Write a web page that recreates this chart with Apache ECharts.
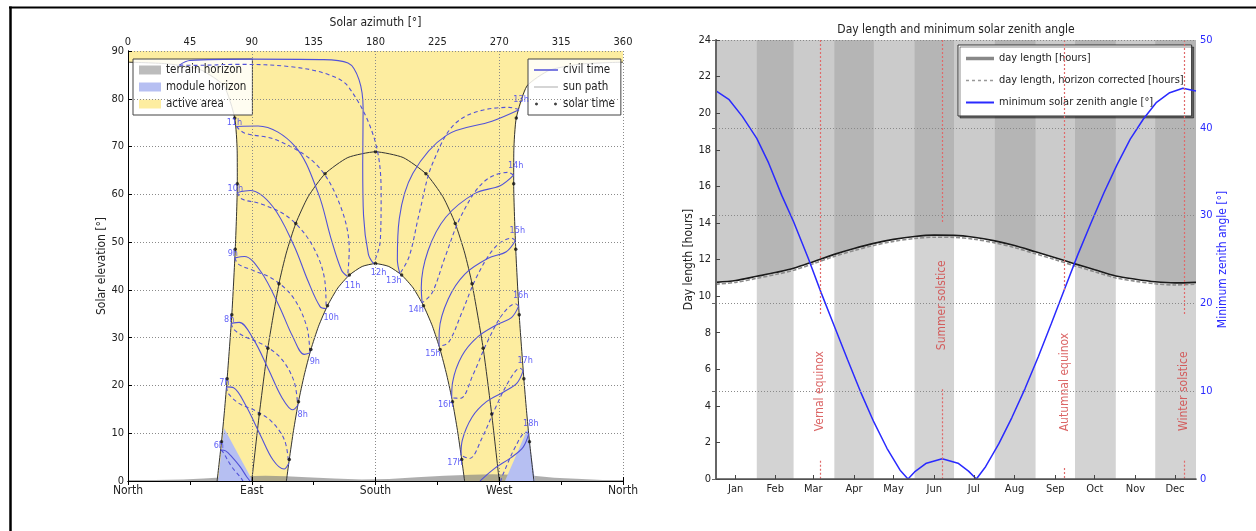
<!DOCTYPE html>
<html><head><meta charset="utf-8">
<script src="https://cdn.jsdelivr.net/npm/echarts@6/dist/echarts.min.js"></script>
<style>html,body{margin:0;padding:0;background:#fff}#c{width:1256px;height:531px}</style>
</head><body><div id="c"></div>
<script>
// ================= LEFT CHART DATA (azimuth °, elevation °) =================
const compassLabels = ['North', 'East', 'South', 'West', 'North'];

const summerPathAM = [[64.8,0],[68.0,8.2],[70.2,14.8],[72.1,21.4],[75.5,34.8],[78.0,48.5],[79.5,62.2],[79.4,69.1],[77.6,76.0],[69.8,82.7],[53.3,86.0],[29.3,87.3],[0,87.66]];
const summerPathPM = [[360,87.66],[330.7,87.3],[306.7,86.0],[290.2,82.7],[282.4,76.0],[280.6,69.1],[280.5,62.2],[282.0,48.5],[284.5,34.8],[287.9,21.4],[289.8,14.8],[292.0,8.2],[295.2,0]];
const winterPath = [[115.2,0],[117.3,4.5],[120.4,10.6],[124.0,16.6],[128.2,22.2],[133.0,27.5],[138.6,32.4],[145.1,36.7],[152.6,40.4],[161.0,43.1],[170.3,44.9],[180,45.5],[189.7,44.9],[199.0,43.1],[207.4,40.4],[214.9,36.7],[221.4,32.4],[227.0,27.5],[231.8,22.2],[236.0,16.6],[239.6,10.6],[242.7,4.5],[244.8,0]];
const equinoxPath = [[90,0],[95.5,14.0],[101.7,27.8],[109.8,41.3],[115.1,47.7],[122.0,53.9],[131.0,59.5],[143.3,64.3],[159.9,67.7],[180,68.9],[200.1,67.7],[216.7,64.3],[229.0,59.5],[238.0,53.9],[244.9,47.7],[250.2,41.3],[258.3,27.8],[264.5,14.0],[270,0]];
const skyTop = [[0,90],[360,90]];

const terrainHorizon = [[0,0],[0,0.2],[20,0.2],[40,0.3],[55,0.5],[70,0.8],[85,1.0],[100,1.1],[115,1.0],[130,0.8],[150,0.5],[170,0.3],[190,0.4],[210,0.8],[230,1.1],[250,1.3],[265,1.4],[280,1.3],[295,1.1],[310,0.7],[330,0.4],[345,0.2],[360,0.2],[360,0]];
const moduleHorizonEast = [[65.5,0],[69.8,11.1],[90.7,0]];
const moduleHorizonWest = [[274.2,0],[290.7,11.0],[296.0,0]];

const solarTimeDots = [
  [68.0,8.2],[72.1,21.4],[75.5,34.8],[78.0,48.5],[79.5,62.2],[77.6,76.0],
  [282.4,76.0],[280.5,62.2],[282.0,48.5],[284.5,34.8],[287.9,21.4],[292.0,8.2],
  [95.5,14.0],[101.7,27.8],[109.8,41.3],[122.0,53.9],[143.3,64.3],[180,68.9],
  [216.7,64.3],[238.0,53.9],[250.2,41.3],[258.3,27.8],[264.5,14.0],
  [117.3,4.5],[124.0,16.6],[133.0,27.5],[145.1,36.7],[161.0,43.1],[180,45.5],
  [199.0,43.1],[214.9,36.7],[227.0,27.5],[236.0,16.6],[242.7,4.5]
];

const civilHours = [6,7,8,9,10,11,12,13,14,15,16,17,18];
const civilSolid = [
  [[67.5,6.5],[71.0,6.3],[75.4,5.1],[81.5,3.0],[86.3,0.9],[88.7,0]],
  [[71.6,19.7],[76.8,19.5],[85.5,15.9],[96.3,9.6],[105.5,4.4],[113.5,2.5],[116.8,3.6]],
  [[75.1,33.0],[80.9,33.2],[90.8,29.9],[102.3,23.3],[111.7,17.6],[119.9,14.9],[123.4,15.8]],
  [[77.7,46.7],[84.7,47.0],[96.7,43.8],[109.8,36.7],[119.7,30.3],[128.2,26.5],[132.2,26.8]],
  [[79.5,60.4],[88.9,60.8],[105.1,57.5],[120.5,49.4],[131.0,41.8],[139.7,36.5],[144.1,36.1]],
  [[78.8,74.2],[94.6,74.3],[121.3,70.1],[138.4,60.2],[147.5,50.9],[155.3,44.1],[159.7,42.8]],
  [[37.4,87.05],[45,88.0],[90,88.3],[140,88.2],[160,87.5],[168,84],[171,78],[170.7,66.2],[171.3,55.6],[174.8,47.5],[178.6,45.5]],
  [[284.4,77.7],[264.7,75.3],[231.8,72.4],[207.2,64.4],[197.3,54.9],[195.9,46.3],[197.7,43.4]],
  [[280.5,64.0],[270.7,61.8],[252.3,60.2],[231.1,55.2],[218.2,48.2],[213.3,40.5],[213.9,37.3]],
  [[281.7,50.3],[275.1,48.0],[261.9,46.6],[245.0,43.3],[232.9,38.1],[226.4,31.5],[226.2,28.2]],
  [[284.1,36.6],[278.9,34.2],[268.2,32.7],[254.1,30.1],[242.9,26.2],[236.1,20.7],[235.4,17.4]],
  [[287.4,23.1],[282.9,20.5],[273.5,18.7],[260.7,16.6],[250.3,13.4],[243.1,8.5],[242.2,5.4]],
  [[291.5,9.9],[287.4,7.1],[278.6,4.9],[266.4,2.6],[256.7,0.2],[256.0,0]]
];
const civilDashed = [
  [[67.5,6.5],[69.0,6.1],[75.4,3.0],[81.5,0.9],[83.6,0]],
  [[71.6,19.7],[73.3,18.2],[81.0,16.2],[92.6,14.7],[104.3,12.5],[113.9,8.5],[116.8,3.6]],
  [[75.1,33.0],[77.0,31.7],[85.8,30.1],[98.5,28.5],[111.2,25.7],[120.7,20.9],[123.4,15.8]],
  [[77.7,46.7],[80.2,45.4],[90.7,44.1],[105.9,42.2],[120.4,38.3],[130.1,32.2],[132.2,26.8]],
  [[79.5,60.4],[82.9,59.0],[96.9,58.0],[117.1,55.1],[133.9,49.4],[143.2,41.8],[144.1,36.1]],
  [[78.8,74.2],[85.0,72.8],[107.8,71.4],[137.1,66.2],[154.3,57.7],[160.9,48.4],[159.7,42.8]],
  [[37.4,87.05],[49,87.0],[79.8,87.2],[118.7,86.7],[146,85.05],[160.6,82.4],[179,71.8],[184.1,60.3],[183.5,50.3],[178.6,45.5]],
  [[284.4,77.7],[277.1,78.2],[240.8,75.5],[221.7,66.6],[211.9,56.1],[204.5,47.0],[197.7,43.4]],
  [[280.5,64.0],[276.5,64.6],[258.7,62.6],[242.3,55.5],[230.5,46.8],[221.2,39.4],[213.9,37.3]],
  [[281.7,50.3],[279.0,50.8],[266.9,48.9],[253.7,42.8],[242.6,35.1],[233.1,29.0],[226.2,28.2]],
  [[284.1,36.6],[281.8,37.1],[272.4,34.9],[261.3,29.1],[251.0,22.3],[241.7,17.3],[235.4,17.4]],
  [[287.4,23.1],[285.2,23.6],[277.2,21.0],[267.2,15.3],[257.3,8.9],[248.3,4.7],[242.2,5.4]],
  [[291.5,9.9],[289.5,10.2],[282.0,7.3],[272.6,1.3],[271.0,0]]
];

// ================= RIGHT CHART DATA =================
const monthNames = ['Jan','Feb','Mar','Apr','May','Jun','Jul','Aug','Sep','Oct','Nov','Dec'];
const monthMidDays = [15,45,74,105,135,166,196,227,258,288,319,349];
const monthStartDays = [0,31,59,90,120,151,181,212,243,273,304,334,365];
const shadedMonths = [1,3,5,7,9,11];

const dayOfYear = [0,15,31,46,59,74,90,105,120,135,151,166,181,196,212,227,243,258,273,288,304,319,334,349,365];
const dayLength = [10.75,10.85,11.08,11.30,11.52,11.88,12.28,12.60,12.88,13.10,13.26,13.33,13.32,13.22,13.02,12.76,12.42,12.10,11.76,11.44,11.10,10.92,10.78,10.72,10.75];
const dayLengthHorizon = [10.65,10.75,10.97,11.19,11.41,11.77,12.17,12.49,12.77,12.99,13.15,13.22,13.21,13.11,12.91,12.65,12.31,11.99,11.65,11.33,10.99,10.81,10.67,10.61,10.65];

const zenithDays = [0,10,20,31,40,50,59,70,80,90,100,110,120,130,140,146,151,160,172,184,192,198,205,215,225,235,245,255,265,275,285,295,305,315,325,335,345,355,365];
const zenithAngle = [44.2,43.2,41.3,38.8,36.0,32.3,29.3,25.2,21.2,17.4,13.6,9.9,6.5,3.5,1.0,0,0.8,1.8,2.3,1.8,0.9,0,1.4,4.0,7.0,10.3,13.9,17.7,21.6,25.5,29.1,32.6,35.8,38.7,41.0,42.9,44.0,44.5,44.2];

const eventNames = ['Vernal equinox','Summer solstice','Autumnal equinox','Winter solstice'];
const eventDays = [79,172,265,356];

// ================= STYLE / LAYOUT =================
const FONT = "'DejaVu Sans Condensed','Liberation Sans Narrow','DejaVu Sans',sans-serif";
const YELLOW = '#fdeda0';
const MODULE = '#b6bff2';
const TERRAIN = 'rgba(130,130,130,0.65)';
const CIVIL = '#5252d8';
const BLUE = '#2a2aff';
const RED = '#d24040';
const eventLabelHours = [4.8, 9.5, 5.3, 4.8];
const eventLineGaps = [[9.0,1.0],[14.0,4.9],[10.3,0.6],[9.0,1.0]];

function lineIcon(w, h, t) {
  return 'path://M0,0h0.01M' + w + ',' + h + 'h0.01M0,' + ((h - t) / 2) + 'h' + w + 'v' + t + 'h-' + w + 'z';
}
function dashIcon(w, h, t, d, g) {
  let p = 'path://M0,0h0.01M' + w + ',' + h + 'h0.01';
  for (let x = 0; x < w; x += d + g) p += 'M' + x + ',' + ((h - t) / 2) + 'h' + Math.min(d, w - x) + 'v' + t + 'h-' + Math.min(d, w - x) + 'z';
  return p;
}

const chart = echarts.init(document.getElementById('c'), null, {renderer:'canvas'});

function polySeries(name, polys, fill, z) {
  return {
    name: name, type: 'custom', xAxisIndex: 0, yAxisIndex: 0, z: z, silent: true,
    itemStyle: {color: fill},
    data: polys.map(p => p[0]),
    renderItem: (params, api) => ({
      type: 'polygon',
      shape: {points: polys[params.dataIndex].map(pt => api.coord(pt))},
      style: {fill: fill}
    })
  };
}

const activeArea = summerPathAM.concat(skyTop, summerPathPM, winterPath.slice().reverse());

const series = [];
series.push(polySeries('active area', [activeArea], YELLOW, 1));
series.push(polySeries('terrain horizon', [terrainHorizon], TERRAIN, 2));
series.push(polySeries('module horizon', [moduleHorizonEast, moduleHorizonWest], MODULE, 2));

[summerPathAM, summerPathPM, winterPath, equinoxPath].forEach(p => {
  series.push({name:'sun path', type:'line', xAxisIndex:0, yAxisIndex:0, data:p, symbol:'none', smooth:0.2,
    lineStyle:{color:'#333', width:1}, itemStyle:{color:'#333'}, z:3, silent:true});
});

civilHours.forEach((h, i) => {
  series.push({name:'civil time', type:'line', xAxisIndex:0, yAxisIndex:0, data:civilSolid[i], symbol:'none', smooth:0.35,
    lineStyle:{color:CIVIL, width:1.1}, itemStyle:{color:CIVIL}, z:4, silent:true});
  series.push({name:'civil time', type:'line', xAxisIndex:0, yAxisIndex:0, data:civilDashed[i], symbol:'none', smooth:0.35,
    lineStyle:{color:CIVIL, width:1.1, type:[4,3]}, itemStyle:{color:CIVIL}, z:4, silent:true});
});

series.push({name:'solar time', type:'scatter', xAxisIndex:0, yAxisIndex:0, data:solarTimeDots, symbolSize:3.5,
  itemStyle:{color:'#111'}, z:5, silent:true});

const hourLabels = [];
civilHours.forEach((h, i) => {
  const c = civilSolid[i];
  if (h !== 12) hourLabels.push({value:c[0], name:h + 'h', label:{offset: h < 12 ? [-2,-4] : [2,-10]}});
  if (h >= 8 && h <= 17) hourLabels.push({value:c[c.length-1], name:h + 'h', label:{offset: h <= 12 ? [5,9] : [-6,7]}});
});
series.push({type:'scatter', xAxisIndex:0, yAxisIndex:0, data:hourLabels, symbolSize:1, itemStyle:{color:'rgba(0,0,0,0)'},
  label:{show:true, formatter:'{b}', position:'inside', color:'#3535f5', fontSize:9, fontFamily:FONT}, z:6, silent:true});

// ---- right chart ----
series.push({type:'custom', xAxisIndex:2, yAxisIndex:2, z:1, silent:true,
  data: shadedMonths.map(m => [monthStartDays[m], monthStartDays[m+1]]),
  encode:{x:[0,1]},
  renderItem: (params, api) => {
    const a = api.coord([api.value(0), 24]);
    const b = api.coord([api.value(1), 0]);
    return {type:'rect', shape:{x:a[0], y:a[1], width:b[0]-a[0], height:b[1]-a[1]}, style:{fill:'#d3d3d3'}};
  }
});
series.push({name:'day length [hours]', type:'line', xAxisIndex:2, yAxisIndex:2,
  data: dayOfYear.map((d,i) => [d, dayLength[i]]), symbol:'none', smooth:0.3,
  lineStyle:{color:'#1a1a1a', width:1.6}, itemStyle:{color:'#1a1a1a'},
  areaStyle:{origin:'end', color:'rgba(151,151,151,0.5)', opacity:1}, z:2, silent:true});
series.push({name:'day length, horizon corrected [hours]', type:'line', xAxisIndex:2, yAxisIndex:2,
  data: dayOfYear.map((d,i) => [d, dayLengthHorizon[i]]), symbol:'none', smooth:0.3,
  lineStyle:{color:'#8c8c8c', width:1.6, type:[4,2]}, itemStyle:{color:'#8c8c8c'}, z:3, silent:true,
  markLine:{silent:true, symbol:['none','none'], label:{show:false},
    lineStyle:{type:[2,2], color:'#e06a6a', width:1.2},
    data: eventDays.flatMap((d,i) => [
      [{coord:[d,24]},{coord:[d,eventLineGaps[i][0]]}],
      [{coord:[d,eventLineGaps[i][1]]},{coord:[d,0]}]
    ])
  }});
series.push({name:'minimum solar zenith angle [°]', type:'line', xAxisIndex:2, yAxisIndex:3,
  data: zenithDays.map((d,i) => [d, zenithAngle[i]]), symbol:'none', smooth:false,
  lineStyle:{color:BLUE, width:1.5}, itemStyle:{color:BLUE}, z:4, silent:true});
series.push({type:'scatter', xAxisIndex:2, yAxisIndex:2,
  data: eventDays.map((d,i) => ({value:[d, eventLabelHours[i]], name:eventNames[i]})),
  symbolSize:1, itemStyle:{color:'rgba(0,0,0,0)'},
  label:{show:true, formatter:'{b}', position:'inside', rotate:90, color:RED, fontSize:12, fontFamily:FONT}, z:5, silent:true});

const axisTxt = {color:'#222', fontSize:11, fontFamily:FONT};
const dotted = {show:true, lineStyle:{type:[1,2], color:'#8a8a8a', width:1}};

const option = {
  animation: false,
  backgroundColor: '#fff',
  textStyle: {fontFamily: FONT},
  grid: [
    {left:128, top:51, width:495, height:430},
    {left:716, top:40, width:480, height:439}
  ],
  xAxis: [
    {gridIndex:0, type:'value', min:0, max:360, interval:90, position:'bottom', z:10,
      axisLine:{show:true, lineStyle:{color:'#000'}}, axisTick:{show:true, inside:true, length:4, lineStyle:{color:'#000'}},
      axisLabel:{formatter: v => compassLabels[Math.round(v/90)], margin:4, fontSize:12, color:'#222', fontFamily:FONT},
      splitLine:dotted},
    {gridIndex:0, type:'value', min:0, max:360, interval:45, position:'top', z:10,
      name:'Solar azimuth [°]', nameLocation:'middle', nameGap:22, nameTextStyle:{color:'#222', fontSize:12, fontFamily:FONT},
      axisLine:{show:true, lineStyle:{color:'#000'}}, axisTick:{show:true, inside:true, length:4, lineStyle:{color:'#000'}},
      axisLabel:Object.assign({margin:3}, axisTxt), splitLine:{show:false}},
    {gridIndex:1, type:'value', min:0, max:365, position:'bottom', z:10,
      axisLine:{show:true, lineStyle:{color:'#444'}},
      axisTick:{show:true, inside:true, length:4, customValues:monthMidDays, lineStyle:{color:'#444'}},
      axisLabel:Object.assign({customValues:monthMidDays, formatter: v => monthNames[monthMidDays.indexOf(v)], margin:5}, axisTxt),
      splitLine:{show:false}},
    {gridIndex:1, type:'value', min:0, max:365, position:'top', z:10,
      axisLine:{show:true, lineStyle:{color:'#555', width:1.5}}, axisTick:{show:false}, axisLabel:{show:false}, splitLine:{show:false}}
  ],
  yAxis: [
    {gridIndex:0, type:'value', min:0, max:90, interval:10, position:'left', z:10,
      name:'Solar elevation [°]', nameLocation:'middle', nameGap:18, nameRotate:90, nameTextStyle:{color:'#222', fontSize:12, fontFamily:FONT},
      axisLine:{show:true, lineStyle:{color:'#000'}}, axisTick:{show:true, inside:true, length:4, lineStyle:{color:'#000'}},
      axisLabel:Object.assign({margin:4}, axisTxt), splitLine:dotted},
    {gridIndex:0, type:'value', min:0, max:90, position:'right', z:10,
      axisLine:{show:true, lineStyle:{color:'#000'}}, axisTick:{show:false}, axisLabel:{show:false}, splitLine:{show:false}},
    {gridIndex:1, type:'value', min:0, max:24, interval:2, position:'left', z:10,
      name:'Day length [hours]', nameLocation:'middle', nameGap:20, nameRotate:90, nameTextStyle:{color:'#222', fontSize:12, fontFamily:FONT},
      axisLine:{show:true, lineStyle:{color:'#444'}}, axisTick:{show:true, inside:true, length:4, lineStyle:{color:'#444'}},
      axisLabel:Object.assign({margin:5}, axisTxt), splitLine:{show:false}},
    {gridIndex:1, type:'value', min:0, max:50, interval:10, position:'right', z:10,
      name:'Minimum zenith angle [°]', nameLocation:'middle', nameGap:16, nameRotate:90, nameTextStyle:{color:BLUE, fontSize:12, fontFamily:FONT},
      axisLine:{show:true, lineStyle:{color:'#666', width:2}}, axisTick:{show:true, inside:true, length:4, lineStyle:{color:'#666'}},
      axisLabel:{color:BLUE, fontSize:11, fontFamily:FONT, margin:4}, splitLine:dotted}
  ],
  legend: [
    {left:133, top:59, orient:'vertical', selectedMode:false, itemWidth:22, itemHeight:9, itemGap:5, padding:[5,6,5,6],
      backgroundColor:'rgba(255,255,255,0.85)', borderColor:'#444', borderWidth:1, borderRadius:0,
      textStyle:{color:'#222', fontSize:11.5, fontFamily:FONT},
      data:[{name:'terrain horizon', icon:'rect', itemStyle:{color:'#bcbcbc'}},
            {name:'module horizon', icon:'rect', itemStyle:{color:MODULE}},
            {name:'active area', icon:'rect', itemStyle:{color:YELLOW}}]},
    {left:528, top:59, orient:'vertical', selectedMode:false, itemWidth:24, itemHeight:9, itemGap:5, padding:[5,6,5,6],
      backgroundColor:'rgba(255,255,255,0.85)', borderColor:'#444', borderWidth:1, borderRadius:0,
      textStyle:{color:'#222', fontSize:11.5, fontFamily:FONT},
      data:[{name:'civil time', icon:lineIcon(24,9,1.3), itemStyle:{color:CIVIL}},
            {name:'sun path', icon:lineIcon(24,9,1.3), itemStyle:{color:'#c8c8c8'}},
            {name:'solar time', icon:'path://M1,4a1.5,1.5 0 1,0 3,0a1.5,1.5 0 1,0 -3,0zM20,4a1.5,1.5 0 1,0 3,0a1.5,1.5 0 1,0 -3,0zM0,0h0.01M24,8h0.01', itemStyle:{color:'#111'}}]},
    {left:958, top:45, orient:'vertical', selectedMode:false, itemWidth:28, itemHeight:10, itemGap:11, padding:[8,8,8,8],
      backgroundColor:'#fff', borderColor:'#333', borderWidth:1, borderRadius:0,
      shadowColor:'rgba(0,0,0,0.45)', shadowOffsetX:2, shadowOffsetY:2, shadowBlur:0,
      textStyle:{color:'#222', fontSize:11, fontFamily:FONT},
      data:[{name:'day length [hours]', icon:lineIcon(28,10,3.5), itemStyle:{color:'#888'}},
            {name:'day length, horizon corrected [hours]', icon:dashIcon(28,10,1.5,3,3), itemStyle:{color:'#999'}},
            {name:'minimum solar zenith angle [°]', icon:lineIcon(28,10,2), itemStyle:{color:BLUE}}]}
  ],
  graphic: [
    {type:'line', shape:{x1:9, y1:7.5, x2:1256, y2:7.5}, style:{stroke:'#000', lineWidth:2}, z:100},
    {type:'line', shape:{x1:10.5, y1:6.5, x2:10.5, y2:531}, style:{stroke:'#000', lineWidth:2.5}, z:100},
    {type:'text', x:956, y:30, z:100, style:{text:'Day length and minimum solar zenith angle', textAlign:'center', textVerticalAlign:'middle',
      fill:'#222', font:'12px ' + FONT}}
  ],
  series: series
};
chart.setOption(option);
</script></body></html>
